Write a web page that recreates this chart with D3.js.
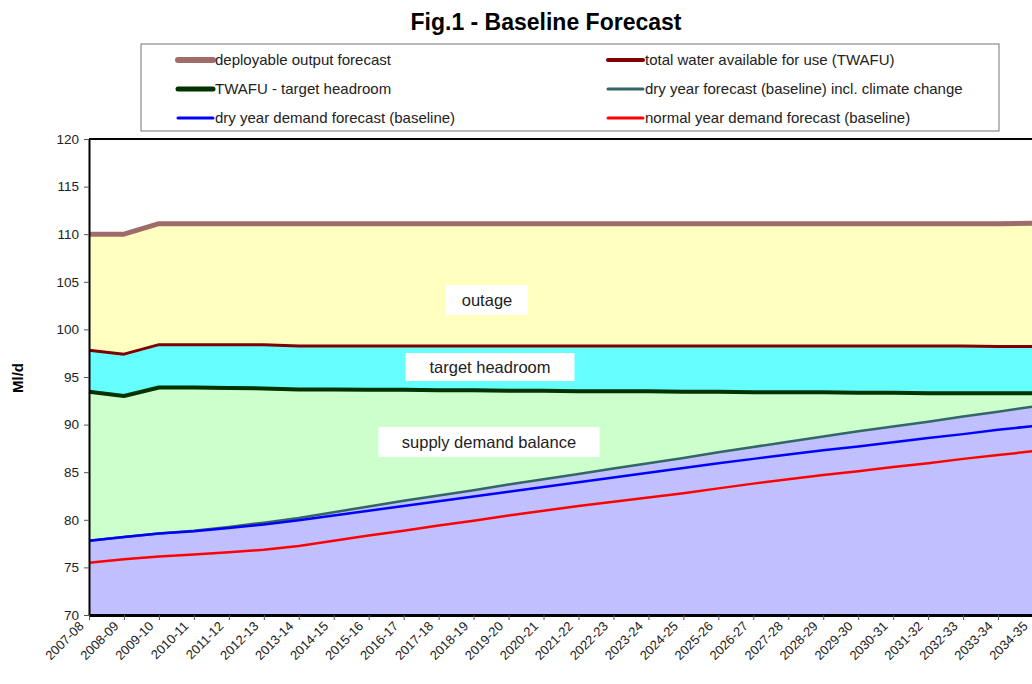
<!DOCTYPE html>
<html>
<head>
<meta charset="utf-8">
<script src="https://cdn.jsdelivr.net/npm/d3@7"></script>
<style>
  body { margin: 0; background: #fff; }
  text { font-family: Arial, "Liberation Sans", sans-serif; }
</style>
</head>
<body>
<div id="chart"></div>
<script>
// years on the x axis
const years = ["2007-08","2008-09","2009-10","2010-11","2011-12","2012-13","2013-14","2014-15",
  "2015-16","2016-17","2017-18","2018-19","2019-20","2020-21","2021-22","2022-23","2023-24",
  "2024-25","2025-26","2026-27","2027-28","2028-29","2029-30","2030-31","2031-32","2032-33",
  "2033-34","2034-35"];

// series, Ml/d
const deployableOutput = [110.0,110.0,111.1,111.1,111.1,111.1,111.1,111.1,111.1,111.1,111.1,111.1,
  111.1,111.1,111.1,111.1,111.1,111.1,111.1,111.1,111.1,111.1,111.1,111.1,111.1,111.1,111.1,111.15];
const twafu = [97.8,97.4,98.4,98.4,98.4,98.4,98.25,98.25,98.25,98.25,98.25,98.25,98.25,98.25,
  98.25,98.25,98.25,98.25,98.25,98.25,98.25,98.25,98.25,98.25,98.25,98.25,98.2,98.2];
const twafuHeadroom = [93.45,93.0,93.9,93.9,93.85,93.8,93.7,93.7,93.65,93.65,93.6,93.6,93.55,93.55,
  93.5,93.5,93.5,93.45,93.45,93.4,93.4,93.4,93.35,93.35,93.3,93.3,93.3,93.3];
const dryYearCC = [77.8,78.2,78.55,78.85,79.25,79.7,80.2,80.8,81.4,82.0,82.55,83.1,83.7,84.25,
  84.8,85.4,85.95,86.5,87.1,87.65,88.2,88.75,89.3,89.8,90.3,90.85,91.35,91.9];
const dryYear = [77.8,78.2,78.55,78.8,79.15,79.5,79.95,80.45,80.95,81.45,81.95,82.45,82.95,83.45,
  83.95,84.45,84.95,85.45,85.95,86.4,86.85,87.3,87.7,88.15,88.6,89.0,89.45,89.85];
const normalYear = [75.5,75.85,76.15,76.35,76.6,76.85,77.25,77.8,78.35,78.85,79.4,79.9,80.45,80.95,
  81.45,81.9,82.35,82.8,83.3,83.8,84.25,84.7,85.1,85.55,85.95,86.4,86.8,87.2];

const yTicks = [70,75,80,85,90,95,100,105,110,115,120];

const legendItems = [
  {name: "deployable output forecast", color: "#A06C69", w: 6},
  {name: "total water available for use (TWAFU)", color: "#800000", w: 4},
  {name: "TWAFU - target headroom", color: "#003300", w: 5},
  {name: "dry year forecast (baseline) incl. climate change", color: "#336666", w: 3},
  {name: "dry year demand forecast (baseline)", color: "#0000FF", w: 3},
  {name: "normal year demand forecast (baseline)", color: "#FF0000", w: 3}
];

const W = 1032, H = 684;
const plotLeft = 89, plotRight = 1033, plotTop = 139, plotBottom = 615;

const svg = d3.select("#chart").append("svg")
  .attr("width", W).attr("height", H);

const x = d3.scalePoint().domain(years).range([plotLeft, plotRight]);
const y = d3.scaleLinear().domain([70, 120]).range([plotBottom, plotTop]);

const data = years.map((yr, i) => ({
  yr: yr, dO: deployableOutput[i], tw: twafu[i], th: twafuHeadroom[i],
  cc: dryYearCC[i], dy: dryYear[i], ny: normalYear[i]
}));

// stacked bands
function band(lo, hi, fill) {
  svg.append("path")
    .datum(data)
    .attr("fill", fill)
    .attr("d", d3.area().x(d => x(d.yr)).y0(d => lo(d)).y1(d => hi(d)));
}
band(d => y(70), d => y(d.cc), "#C0C0FF");
band(d => y(d.cc), d => y(d.th), "#CCFFCC");
band(d => y(d.th), d => y(d.tw), "#66FFFF");
band(d => y(d.tw), d => y(d.dO), "#FFFFC0");

// lines
function drawLine(key, color, w) {
  svg.append("path")
    .datum(data)
    .attr("fill", "none")
    .attr("stroke", color)
    .attr("stroke-width", w)
    .attr("stroke-linejoin", "round")
    .attr("d", d3.line().x(d => x(d.yr)).y(d => y(d[key])));
}
drawLine("dO", "#A06C69", 5);
drawLine("tw", "#800000", 3);
drawLine("th", "#003300", 4);
drawLine("cc", "#336666", 2.5);
drawLine("dy", "#0000FF", 2.5);
drawLine("ny", "#FF0000", 2.5);

// plot top border
svg.append("line").attr("x1", plotLeft).attr("x2", W).attr("y1", plotTop).attr("y2", plotTop)
  .attr("stroke", "#000").attr("stroke-width", 2);

// y axis
const yAxis = svg.append("g")
  .attr("transform", "translate(" + plotLeft + ",0)")
  .call(d3.axisLeft(y).tickValues(yTicks).tickSize(5).tickSizeOuter(0));
yAxis.select(".domain").attr("stroke", "#000").attr("stroke-width", 2);
yAxis.selectAll(".tick line").attr("stroke", "#555");
yAxis.selectAll(".tick text")
  .attr("x", -10)
  .style("font-size", "13.5px")
  .style("font-family", "Arial, 'Liberation Sans', sans-serif")
  .attr("fill", "#222");

// x axis
const xAxis = svg.append("g")
  .attr("transform", "translate(0," + plotBottom + ")")
  .call(d3.axisBottom(x).tickSize(5).tickSizeOuter(0));
xAxis.select(".domain").attr("stroke", "#000").attr("stroke-width", 3);
xAxis.selectAll(".tick line").attr("stroke", "#555");
xAxis.selectAll(".tick text")
  .attr("text-anchor", "end")
  .attr("dx", "0")
  .attr("dy", "0")
  .attr("y", 0)
  .attr("transform", "translate(-5,12) rotate(-45)")
  .style("font-size", "13px")
  .style("font-family", "Arial, 'Liberation Sans', sans-serif")
  .attr("fill", "#222");

// band labels
const bandLabels = [
  {text: "outage", cx: 487, cy: 300, w: 82, h: 30},
  {text: "target headroom", cx: 490, cy: 367, w: 169, h: 28},
  {text: "supply demand balance", cx: 489, cy: 442, w: 221, h: 30}
];
bandLabels.forEach(b => {
  svg.append("rect")
    .attr("x", b.cx - b.w / 2).attr("y", b.cy - b.h / 2)
    .attr("width", b.w).attr("height", b.h)
    .attr("fill", "#fff");
  svg.append("text")
    .attr("x", b.cx).attr("y", b.cy + 6)
    .attr("text-anchor", "middle")
    .style("font-size", "16.5px")
    .attr("fill", "#222")
    .text(b.text);
});

// title
svg.append("text")
  .attr("x", 546).attr("y", 30)
  .attr("text-anchor", "middle")
  .style("font-size", "23px").style("font-weight", "bold")
  .text("Fig.1 - Baseline Forecast");

// y label
svg.append("text")
  .attr("transform", "translate(23,378) rotate(-90)")
  .attr("text-anchor", "middle")
  .style("font-size", "15px").style("font-weight", "bold")
  .text("Ml/d");

// legend
svg.append("rect")
  .attr("x", 141).attr("y", 44).attr("width", 858).attr("height", 87)
  .attr("fill", "#fff").attr("stroke", "#777").attr("stroke-width", 1);

const legend = svg.selectAll(".legend")
  .data(legendItems)
  .enter().append("g")
  .attr("class", "legend")
  .attr("transform", (d, i) => "translate(" + (i % 2 === 0 ? 178 : 608) + "," + (60 + Math.floor(i / 2) * 29) + ")");

legend.append("line")
  .attr("x1", 0).attr("x2", 35).attr("y1", 0).attr("y2", 0)
  .attr("stroke", d => d.color)
  .attr("stroke-width", d => d.w)
  .attr("stroke-linecap", "round");

legend.append("text")
  .attr("x", 37).attr("y", 0).attr("dy", ".35em")
  .style("font-size", "15px")
  .attr("fill", "#222")
  .text(d => d.name);
</script>
</body>
</html>
